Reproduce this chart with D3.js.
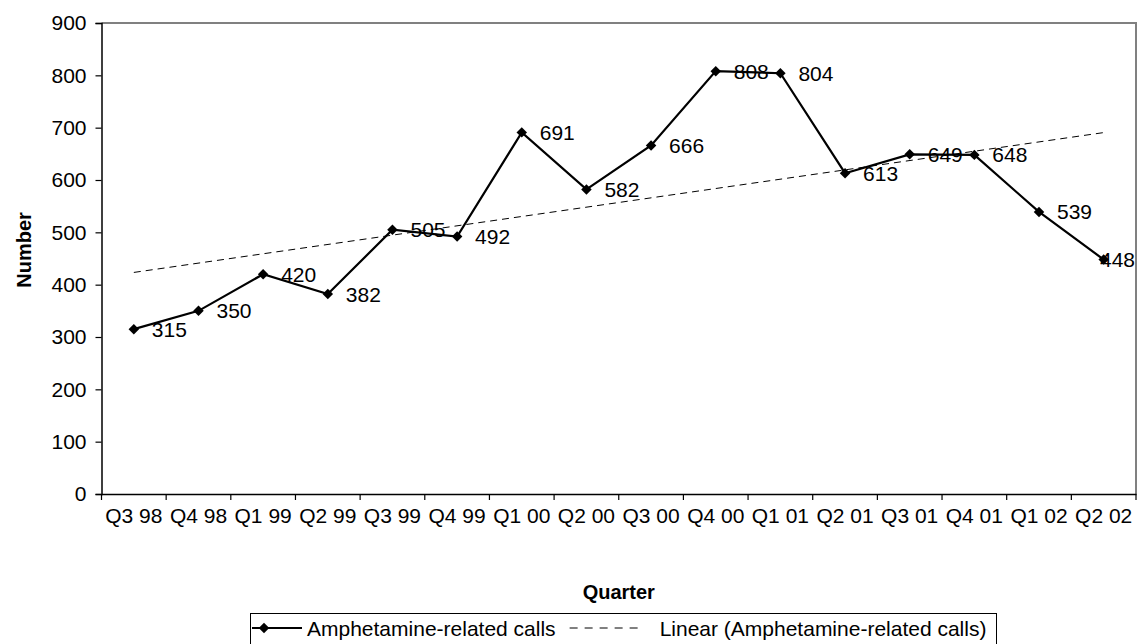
<!DOCTYPE html>
<html>
<head>
<meta charset="utf-8">
<script src="https://cdn.jsdelivr.net/npm/d3@7"></script>
<style>
  html, body { margin: 0; padding: 0; background: #fff; }
  svg { display: block; font-family: "Liberation Sans", Arial, sans-serif; }
</style>
</head>
<body>
<svg id="chart" width="1140" height="644"></svg>
<script>
const quarters = ["Q3 98","Q4 98","Q1 99","Q2 99","Q3 99","Q4 99","Q1 00","Q2 00","Q3 00","Q4 00","Q1 01","Q2 01","Q3 01","Q4 01","Q1 02","Q2 02"];
const calls = [315,350,420,382,505,492,691,582,666,808,804,613,649,648,539,448];
const yTicks = [0,100,200,300,400,500,600,700,800,900];
const seriesName = "Amphetamine-related calls";
const trendName = "Linear (Amphetamine-related calls)";

const svg = d3.select("#chart");
const L = 101.5, R = 1136, T = 23, B = 494;

const x = d3.scaleBand().domain(quarters).range([L, R]).paddingInner(0).paddingOuter(0);
const y = d3.scaleLinear().domain([0, 900]).range([B, T]);
const cx = q => x(q) + x.bandwidth() / 2;

// plot border (gray top/right)
svg.append("path")
  .attr("d", `M${L},${T}H${R}V${B}`)
  .attr("fill", "none").attr("stroke", "#808080").attr("stroke-width", 2);

// y axis
const yAxis = svg.append("g").attr("transform", `translate(${L},0)`)
  .call(d3.axisLeft(y).tickValues(yTicks).tickSize(6).tickPadding(9).tickFormat(d3.format("d")));
yAxis.select(".domain").attr("stroke", "#000").attr("stroke-width", 1.5);
yAxis.selectAll(".tick line").attr("stroke", "#000").attr("stroke-width", 1.2);
yAxis.selectAll("text").attr("font-size", 21).attr("fill", "#000").attr("font-family", "Liberation Sans, Arial, sans-serif");

// x axis
const xAxis = svg.append("g").attr("transform", `translate(0,${B})`)
  .call(d3.axisBottom(x).tickSize(0).tickPadding(14));
xAxis.select(".domain").attr("stroke", "#000").attr("stroke-width", 1.5);
xAxis.selectAll("text").attr("font-size", 21).attr("fill", "#000").attr("font-family", "Liberation Sans, Arial, sans-serif");
// x tick marks at category boundaries
const bounds = quarters.map(q => x(q)).concat([R]);
svg.append("g").selectAll("line").data(bounds).join("line")
  .attr("x1", d => d).attr("x2", d => d).attr("y1", B).attr("y2", B + 6)
  .attr("stroke", "#000").attr("stroke-width", 1.2);

// data labels (drawn under the marks, kept inside the chart)
const labels = svg.append("g").selectAll("text").data(calls).join("text")
  .attr("x", (d, i) => cx(quarters[i]) + 18)
  .attr("y", d => y(d))
  .attr("dy", "0.36em")
  .attr("font-size", 21).attr("fill", "#000")
  .text(d => d);
labels.each(function(d, i) {
  const w = this.getComputedTextLength();
  const x0 = cx(quarters[i]) + 18;
  if (x0 + w > 1135) d3.select(this).attr("x", 1135 - w);
});

// linear trend (least squares of the series)
const n = calls.length;
const xs = d3.range(n);
const mx = d3.mean(xs), my = d3.mean(calls);
const slope = d3.sum(xs, i => (i - mx) * (calls[i] - my)) / d3.sum(xs, i => (i - mx) ** 2);
const icpt = my - slope * mx;
svg.append("line")
  .attr("x1", cx(quarters[0])).attr("y1", y(icpt))
  .attr("x2", cx(quarters[n - 1])).attr("y2", y(icpt + slope * (n - 1)))
  .attr("stroke", "#000").attr("stroke-width", 1).attr("stroke-dasharray", "7,5");

// series line
const line = d3.line().x((d, i) => cx(quarters[i])).y(d => y(d));
svg.append("path").datum(calls).attr("d", line)
  .attr("fill", "none").attr("stroke", "#000").attr("stroke-width", 2.2);

const diamond = d3.symbol().type(d3.symbolDiamond2).size(70);
svg.append("g").selectAll("path").data(calls).join("path")
  .attr("d", diamond)
  .attr("transform", (d, i) => `translate(${cx(quarters[i])},${y(d)})`)
  .attr("fill", "#000");

// axis titles
svg.append("text").attr("transform", "translate(31,250) rotate(-90)")
  .attr("text-anchor", "middle").attr("font-size", 20).attr("font-weight", "bold").text("Number");
svg.append("text").attr("x", (L + R) / 2).attr("y", 599)
  .attr("text-anchor", "middle").attr("font-size", 20).attr("font-weight", "bold").text("Quarter");

// legend
const lg = svg.append("g");
lg.append("rect").attr("x", 250.5).attr("y", 613.5).attr("width", 746).attr("height", 40)
  .attr("fill", "#fff").attr("stroke", "#000").attr("stroke-width", 1);
const ly = 628;
lg.append("line").attr("x1", 252).attr("x2", 302).attr("y1", ly).attr("y2", ly)
  .attr("stroke", "#000").attr("stroke-width", 2.2);
lg.append("path").attr("d", diamond).attr("transform", `translate(264,${ly})`).attr("fill", "#000");
lg.append("text").attr("x", 307).attr("y", ly).attr("dy", "0.36em").attr("font-size", 21).text(seriesName);
const t1w = lg.select("text").node().getComputedTextLength();
const dx0 = 307 + t1w + 14;
lg.append("line").attr("x1", dx0).attr("x2", dx0 + 72).attr("y1", ly).attr("y2", ly)
  .attr("stroke", "#000").attr("stroke-width", 1).attr("stroke-dasharray", "8,7");
lg.append("text").attr("x", dx0 + 90).attr("y", ly).attr("dy", "0.36em").attr("font-size", 21).text(trendName);
</script>
</body>
</html>
